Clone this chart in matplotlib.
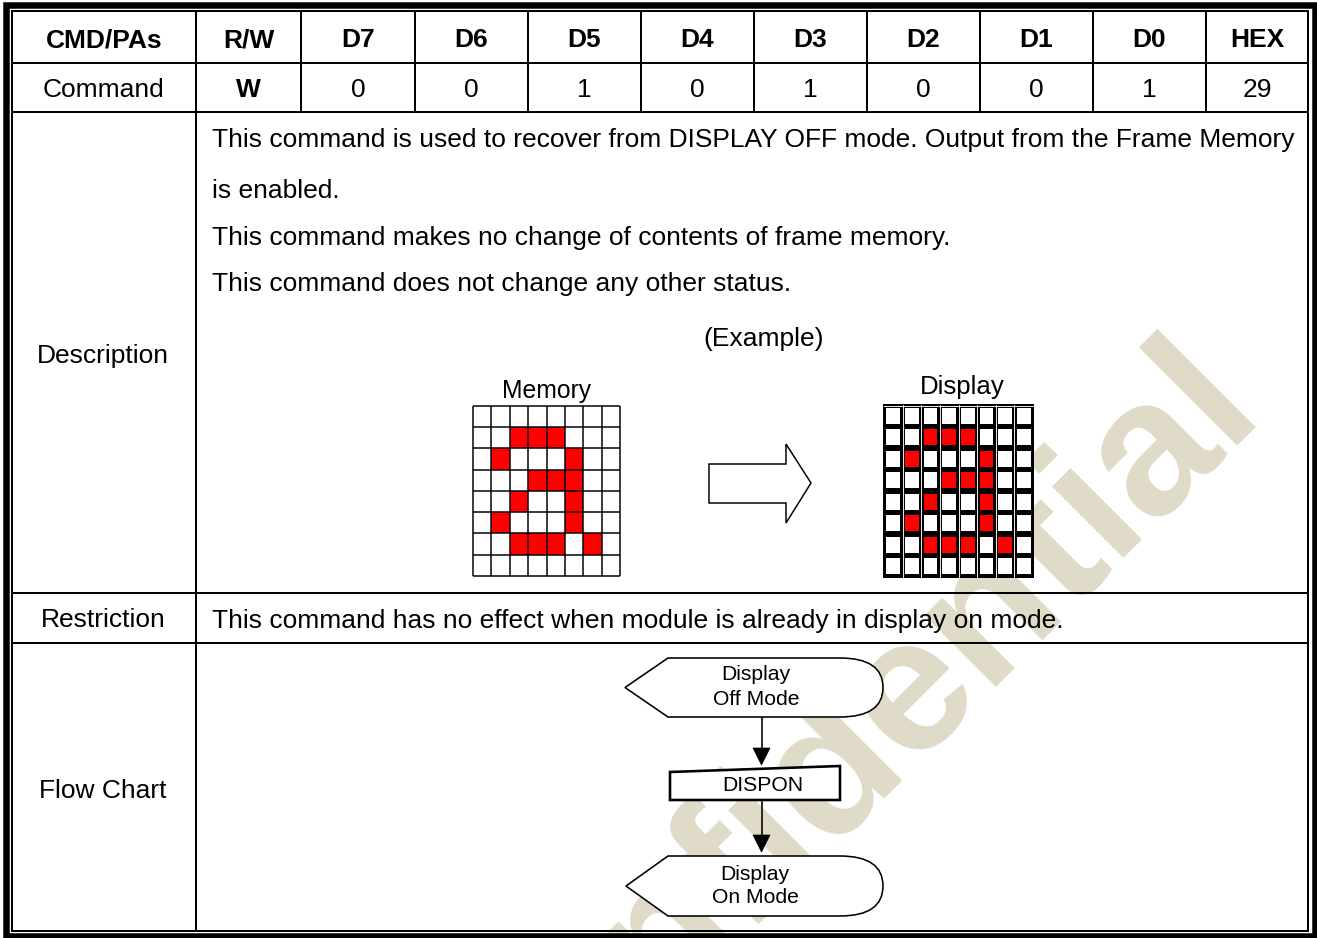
import matplotlib.pyplot as plt
import matplotlib.patches as patches
from matplotlib.path import Path

# ---- table content ----
headers = ['CMD/PAs', 'R/W', 'D7', 'D6', 'D5', 'D4', 'D3', 'D2', 'D1', 'D0', 'HEX']
command_row = ['Command', 'W', '0', '0', '1', '0', '1', '0', '0', '1', '29']
row_labels = ['Description', 'Restriction', 'Flow Chart']
description_lines = [
    'This command is used to recover from DISPLAY OFF mode. Output from the Frame Memory',
    'is enabled.',
    'This command makes no change of contents of frame memory.',
    'This command does not change any other status.',
]
restriction_text = 'This command has no effect when module is already in display on mode.'
example_title = '(Example)'
memory_label = 'Memory'
display_label = 'Display'

# 8x8 pixel pattern shown in both the memory and the display
pixels = [
    [0, 0, 0, 0, 0, 0, 0, 0],
    [0, 0, 1, 1, 1, 0, 0, 0],
    [0, 1, 0, 0, 0, 1, 0, 0],
    [0, 0, 0, 1, 1, 1, 0, 0],
    [0, 0, 1, 0, 0, 1, 0, 0],
    [0, 1, 0, 0, 0, 1, 0, 0],
    [0, 0, 1, 1, 1, 0, 1, 0],
    [0, 0, 0, 0, 0, 0, 0, 0],
]

flow_start = ['Display', 'Off Mode']
flow_step = 'DISPON'
flow_end = ['Display', 'On Mode']
watermark = 'Confidential'

# ---- layout (pixels) ----
W, H = 1317, 938
col_x = [12, 196, 301, 415, 528, 641, 754, 867, 980, 1093, 1206, 1308]
row_y = [11.5, 63, 112, 593, 643, 931.5]
PX = 0.72  # points per pixel at dpi 100
FONT = 'Liberation Sans'
RED = '#ff0000'

fig = plt.figure(figsize=(W / 100, H / 100), dpi=100)
ax = fig.add_axes([0, 0, 1, 1])
ax.set_xlim(0, W)
ax.set_ylim(H, 0)
ax.axis('off')


def put(x, y, s, size, weight='normal', ha='center', z=5):
    # y is the visual middle of capital letters
    em = size / PX
    ax.text(x, y + 0.358 * em, s, fontsize=size, fontweight=weight, ha=ha,
            va='baseline', family=FONT, color='black', zorder=z)


def line(x0, y0, x1, y1, lw_px=2.0, z=4):
    ax.plot([x0, x1], [y0, y1], color='black', lw=lw_px * PX,
            solid_capstyle='butt', zorder=z)


# watermark behind everything, anchored at the end of its last letter
ax.text(1264, 411, watermark, fontsize=138, fontweight='bold', family=FONT,
        color='#e0dbc8', rotation=45, rotation_mode='anchor', ha='right',
        va='baseline', zorder=0.5)

# ---- frame and grid ----
ax.add_patch(patches.Rectangle((6, 5.5), 1308.5, 930.5, fill=False, ec='black',
                               lw=6.5 * PX, zorder=4))
ax.add_patch(patches.Rectangle((col_x[0], row_y[0]), col_x[-1] - col_x[0],
                               row_y[-1] - row_y[0], fill=False, ec='black',
                               lw=2 * PX, zorder=4))
for y in row_y[1:-1]:
    line(col_x[0], y, col_x[-1], y)
line(col_x[1], row_y[0], col_x[1], row_y[-1])
for x in col_x[2:-1]:
    line(x, row_y[0], x, row_y[2])

# ---- header and command rows ----
for i, h in enumerate(headers):
    cx = (col_x[i] + col_x[i + 1]) / 2
    put(cx, 38, h, 19, weight='bold')
for i, v in enumerate(command_row):
    cx = (col_x[i] + col_x[i + 1]) / 2
    put(cx, 88, v, 19, weight='bold' if v == 'W' else 'normal')

put(103, 354, row_labels[0], 19)
put(103, 618, row_labels[1], 19)
put(103, 789, row_labels[2], 19)

# ---- description ----
for y, s in zip([138, 189, 236, 282], description_lines):
    put(212, y, s, 19, ha='left')
put(764, 337, example_title, 19)
put(547, 389, memory_label, 17.8)
put(962, 385, display_label, 18.6)

# memory grid
mx0, mx1, my0, my1 = 473, 620, 406, 576
mdx, mdy = (mx1 - mx0) / 8, (my1 - my0) / 8
for r, row in enumerate(pixels):
    for c, v in enumerate(row):
        ax.add_patch(patches.Rectangle((mx0 + c * mdx, my0 + r * mdy), mdx, mdy,
                                       fc=RED if v else 'white', ec='none', zorder=2))
for k in range(9):
    line(mx0 + k * mdx, my0, mx0 + k * mdx, my1, 1.5, 3)
    line(mx0, my0 + k * mdy, mx1, my0 + k * mdy, 1.5, 3)

# block arrow
ax.add_patch(patches.Polygon([(709, 464), (786, 464), (786, 444), (811, 483),
                              (786, 523), (786, 503), (709, 503)], closed=True,
                             fc='white', ec='black', lw=1.5 * PX, zorder=3))

# display grid (thick borders with a thin white line inside)
dx0, dx1, dy0, dy1 = 884, 1033, 405, 577
ddx, ddy = (dx1 - dx0) / 8, (dy1 - dy0) / 8
ax.add_patch(patches.Rectangle((dx0 - 1, dy0 - 1), dx1 - dx0 + 2, dy1 - dy0 + 2,
                               fc='black', ec='none', zorder=2))
for r, row in enumerate(pixels):
    for c, v in enumerate(row):
        ax.add_patch(patches.Rectangle((dx0 + c * ddx + 2.4, dy0 + r * ddy + 2.8),
                                       ddx - 4.8, ddy - 5.6,
                                       fc=RED if v else 'white', ec='none', zorder=3))
for k in range(1, 8):
    ax.plot([dx0 + k * ddx] * 2, [dy0, dy1], color='white', lw=0.9 * PX, zorder=3)
ax.plot([dx0, dx1], [dy0 + 1.5, dy0 + 1.5], color='white', lw=0.9 * PX, zorder=3)

# ---- restriction ----
put(212, 619, restriction_text, 19, ha='left')


# ---- flow chart ----
def display_shape(xl, xt, xr, xm, yt, yb):
    ym = (yt + yb) / 2
    verts = [(xl, ym), (xt, yt), (xr, yt), (xm, yt), (xm, ym), (xm, yb), (xr, yb),
             (xt, yb), (xl, ym)]
    codes = [Path.MOVETO, Path.LINETO, Path.LINETO, Path.CURVE3, Path.CURVE3,
             Path.CURVE3, Path.CURVE3, Path.LINETO, Path.CLOSEPOLY]
    ax.add_patch(patches.PathPatch(Path(verts, codes), fc='white', ec='black',
                                   lw=1.6 * PX, zorder=3))


display_shape(625, 668, 840, 883, 658, 717)
put(756, 672, flow_start[0], 15.2)
put(756, 697, flow_start[1], 15.2)

ax.add_patch(patches.Polygon([(670, 772), (840, 766), (840, 800), (670, 800)],
                             closed=True, fc='white', ec='black', lw=2.6 * PX, zorder=3))
put(763, 783, flow_step, 15.2)

display_shape(626, 668, 840, 883, 856, 916)
put(755, 872, flow_end[0], 15.2)
put(755, 895, flow_end[1], 15.2)

for ya, yb in [(717, 748), (800, 835)]:
    line(761.5, ya, 761.5, yb, 1.6, 3)
    ax.add_patch(patches.Polygon([(753, yb), (770, yb), (761.5, yb + 17)],
                                 closed=True, fc='black', ec='black', lw=0.5, zorder=3))

fig.savefig('out.png', dpi=100, facecolor='white')
